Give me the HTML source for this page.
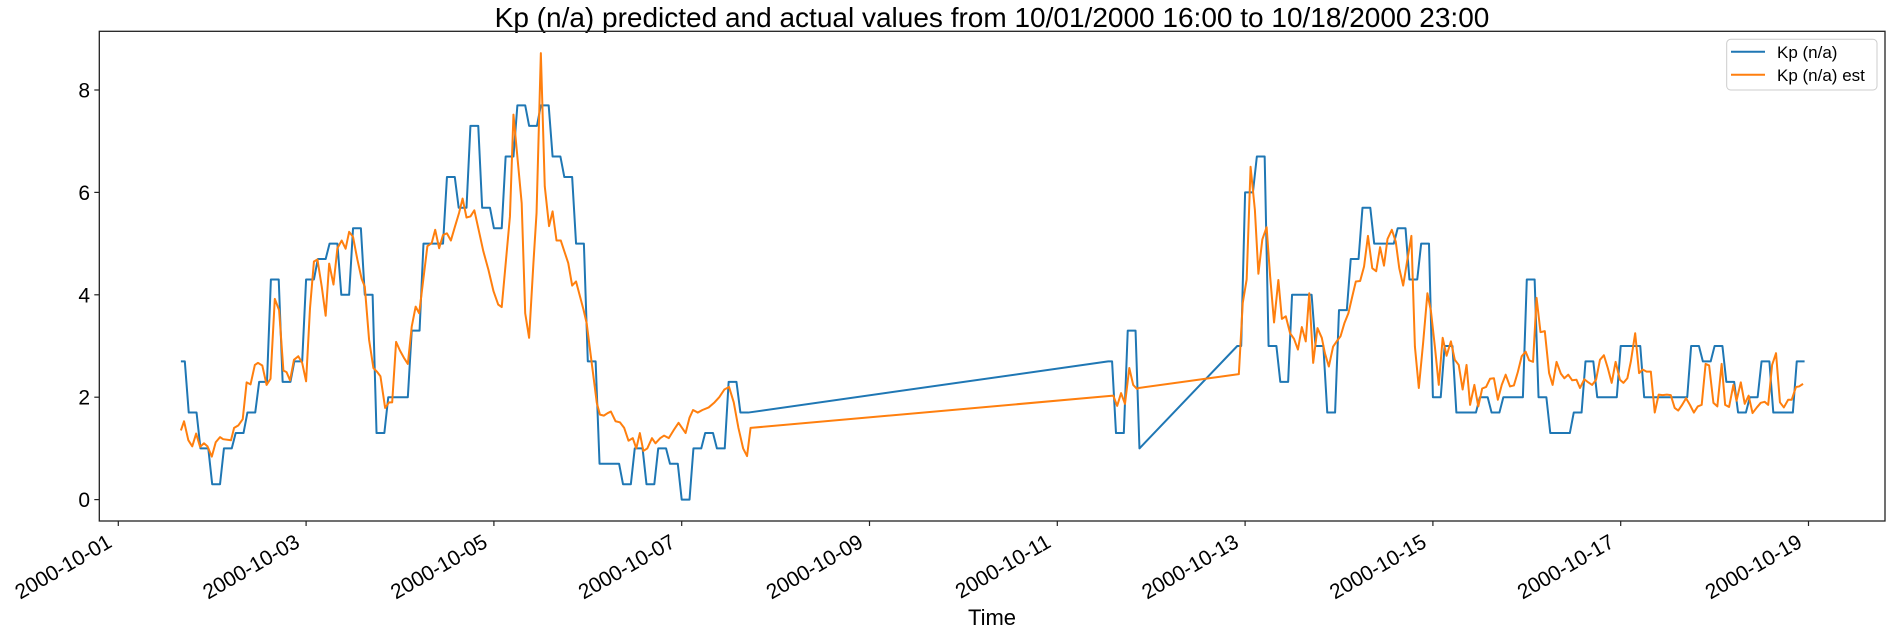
<!DOCTYPE html>
<html><head><meta charset="utf-8"><style>
html,body{margin:0;padding:0;background:#fff;}
svg{display:block;font-family:"Liberation Sans","DejaVu Sans",sans-serif;}
</style></head><body>
<svg id="chart" width="1891" height="633" viewBox="0 0 1891 633" xmlns="http://www.w3.org/2000/svg">
<rect x="0" y="0" width="1891" height="633" fill="#fff"/>
<text x="992" y="27" text-anchor="middle" font-size="28" fill="#000">Kp (n/a) predicted and actual values from 10/01/2000 16:00 to 10/18/2000 23:00</text>
<g id="yaxis"></g>
<g id="xaxis"></g>
<g id="series"></g>
<rect x="99.3" y="31.3" width="1785.7" height="489.7" fill="none" stroke="#222" stroke-width="1.3"/>
<text x="992" y="625" text-anchor="middle" font-size="22" fill="#000">Time</text>
<g>
<rect x="1726.7" y="39.3" width="150.3" height="50.7" rx="4" fill="#fff" fill-opacity="0.8" stroke="#ccc" stroke-width="1"/>
<line x1="1731" y1="51.7" x2="1765" y2="51.7" stroke="#1f77b4" stroke-width="2"/>
<text x="1777" y="58" font-size="17" fill="#000">Kp (n/a)</text>
<line x1="1731" y1="74.7" x2="1765" y2="74.7" stroke="#ff7f0e" stroke-width="2"/>
<text x="1777" y="81" font-size="17" fill="#000">Kp (n/a) est</text>
</g>
</svg>
<script>
// hours since 2000-10-01 00:00
const actualStart = [16,18,21,24,27,30,33,36,39,42,45,48,51,54,57,60,63,66,69,72,75,78,81,84,87,90,93,96,99,102,105,108,111,114,117,120,123,126,129,132,135,138,141,144,147,150,153,156,159,253,255,258,261,286,288,291,294,297,300,303,306,309,312,315,318,321,324,327,330,333,336,339,342,345,348,351,354,357,360,363,366,369,372,375,378,381,384,387,390,393,396,399,402,405,408,411,414,417,420,423,426,429];
const actualEnd = [17,20,23,26,29,32,35,38,41,44,47,50,53,56,59,62,65,68,71,74,77,80,83,86,89,92,95,98,101,104,107,110,113,116,119,122,125,128,131,134,137,140,143,146,149,152,155,158,161,254,257,260,261,287,290,293,296,299,302,305,308,311,314,317,320,323,326,329,332,335,338,341,344,347,350,353,356,359,362,365,368,371,374,377,380,383,386,389,392,395,398,401,404,407,410,413,416,419,422,425,428,431];
const actualValue = [2.7,1.7,1.0,0.3,1.0,1.3,1.7,2.3,4.3,2.3,2.7,4.3,4.7,5.0,4.0,5.3,4.0,1.3,2.0,2.0,3.3,5.0,5.0,6.3,5.7,7.3,5.7,5.3,6.7,7.7,7.3,7.7,6.7,6.3,5.0,2.7,0.7,0.7,0.3,1.0,0.3,1.0,0.7,0.0,1.0,1.3,1.0,2.3,1.7,2.7,1.3,3.3,1.0,3.0,6.0,6.7,3.0,2.3,4.0,4.0,3.0,1.7,3.7,4.7,5.7,5.0,5.0,5.3,4.3,5.0,2.0,3.0,1.7,1.7,2.0,1.7,2.0,2.0,4.3,2.0,1.3,1.3,1.7,2.7,2.0,2.0,3.0,3.0,2.0,2.0,2.0,2.0,3.0,2.7,3.0,2.3,1.7,2.0,2.7,1.7,1.7,2.7];
const estHours = [16,16.8,17.9,18.9,19.9,20.9,21.9,22.8,23.9,24.9,26,26.8,28.8,29.6,30.7,31.8,32.8,33.8,34.9,35.7,36.8,37.9,38.9,40,41.1,42.2,43,43.9,44.9,46,47,48,49,50,50.9,52,53,53.9,55,56,57.1,58.1,59,60,61.1,62.2,63,64.1,65.2,66.2,67,68.2,69.2,70,71,72,73,74,75,76,76.9,79,80.1,81,82,83,84,85,86,87.1,88,89,90,91,92.1,93.3,94.6,95.9,97.1,98,100.1,101,103.1,104,105,106.1,106.9,108,109,110.1,111,112,113.1,114,115,116,117,118,118.9,119.7,121,122.3,123.1,124.1,125.1,125.9,127.1,128.2,129.3,130.4,131.5,132.4,133.3,134.2,135.2,136.4,137.3,138.5,139.5,140.7,141.9,143.2,144.1,145,146,146.9,148.1,149.3,150.9,152.4,153.6,154.9,156.1,157.3,158.5,159.7,160.7,161.6,254.3,255.3,256.3,257.3,258.4,259.4,260.4,260.8,286.4,287.4,288.4,289.4,290.5,291.4,292.4,293.5,294.4,295.4,296.5,297.4,298.4,299.5,300.5,301.5,302.5,303.5,304.4,305.4,306.5,307.6,308.4,309.4,310.5,311.4,312.4,313.4,314.4,315.4,316.3,317.4,318.4,319.4,320.5,321.5,322.5,323.5,324.4,325.5,326.5,327.4,328.4,329.4,330.5,331.4,332.4,333.5,334.6,335.5,336.5,337.5,338.5,339.5,340.6,341.6,342.6,343.6,344.6,345.5,346.6,347.6,348.6,349.6,350.6,351.6,352.6,353.6,354.6,355.7,356.7,357.7,358.7,359.7,360.6,361.6,362.5,363.5,364.6,365.7,366.6,367.6,368.7,369.6,370.6,371.6,372.7,373.6,374.7,375.7,376.7,377.7,378.7,379.7,380.7,381.7,382.7,383.8,384.7,385.7,386.6,387.7,388.7,389.6,390.6,391.7,392.7,393.7,394.7,395.8,396.8,397.8,398.7,399.7,400.7,401.7,402.7,403.7,404.7,405.7,406.6,407.7,408.7,409.8,410.7,411.7,412.8,413.6,414.7,415.7,416.7,417.7,418.8,419.8,420.8,421.7,422.7,423.7,424.7,425.7,426.8,427.7,428.8,429.6,430.6];
const estValue = [1.35,1.53,1.16,1.04,1.29,1.03,1.1,1.04,0.84,1.12,1.22,1.18,1.16,1.4,1.45,1.57,2.29,2.25,2.63,2.67,2.62,2.24,2.36,3.92,3.7,2.52,2.49,2.33,2.73,2.8,2.67,2.31,3.74,4.65,4.69,4.16,3.59,4.61,4.2,4.91,5.06,4.9,5.23,5.13,4.69,4.31,4.16,3.12,2.57,2.49,2.41,1.79,1.9,1.9,3.08,2.91,2.77,2.65,3.38,3.77,3.64,4.95,5.01,5.27,4.91,5.17,5.2,5.06,5.32,5.6,5.88,5.51,5.53,5.65,5.27,4.85,4.49,4.07,3.81,3.76,5.53,7.52,5.79,3.64,3.16,4.62,5.6,8.72,6.12,5.34,5.63,5.06,5.06,4.85,4.62,4.18,4.26,3.97,3.71,3.45,2.67,1.89,1.66,1.64,1.69,1.72,1.53,1.51,1.4,1.15,1.2,1.0,1.3,0.95,1.0,1.2,1.1,1.2,1.25,1.2,1.35,1.5,1.4,1.3,1.6,1.75,1.7,1.75,1.8,1.9,2.0,2.15,2.2,1.9,1.4,1.0,0.85,1.4,2.03,1.83,2.08,1.87,2.57,2.24,2.16,2.18,2.45,3.84,4.3,6.5,5.66,4.41,5.08,5.32,4.36,3.46,4.29,3.53,3.58,3.25,3.14,2.93,3.37,3.09,4.03,2.67,3.35,3.16,2.86,2.6,2.99,3.09,3.19,3.45,3.64,3.97,4.26,4.27,4.55,5.15,4.52,4.46,4.93,4.57,5.09,5.27,5.04,4.52,4.18,4.65,5.15,2.99,2.18,3.06,4.03,3.68,2.99,2.24,3.16,2.81,3.09,2.73,2.63,2.15,2.63,1.85,2.24,1.82,2.17,2.2,2.36,2.37,1.95,2.24,2.44,2.21,2.23,2.49,2.8,2.89,2.72,2.69,3.94,3.27,3.29,2.47,2.24,2.69,2.46,2.37,2.44,2.33,2.34,2.18,2.35,2.29,2.24,2.34,2.73,2.82,2.57,2.28,2.69,2.34,2.28,2.37,2.7,3.25,2.47,2.54,2.5,2.5,1.7,2.05,2.04,2.05,2.04,1.79,1.74,1.85,1.98,1.85,1.7,1.82,1.85,2.65,2.62,1.89,1.82,2.65,1.85,1.81,2.24,1.93,2.29,1.87,2.03,1.69,1.8,1.89,1.91,1.85,2.63,2.86,1.9,1.8,1.95,1.95,2.2,2.21,2.26,2.49];
const yTicks = [0,2,4,6,8];
const xTickDays = [0,2,4,6,8,10,12,14,16,18];
const xTickLabels = ["2000-10-01","2000-10-03","2000-10-05","2000-10-07","2000-10-09","2000-10-11","2000-10-13","2000-10-15","2000-10-17","2000-10-19"];

const NS = "http://www.w3.org/2000/svg";
function xs(h){ return 118.3 + h/24*93.9; }
function ys(v){ return 499.6 - v*51.2; }
function mk(tag, attrs, parent){
  const e = document.createElementNS(NS, tag);
  for (const k in attrs) e.setAttribute(k, attrs[k]);
  parent.appendChild(e);
  return e;
}
const yaxis = document.getElementById('yaxis');
yTicks.forEach(function(v){
  const t = mk('line', {x1:94.3, x2:99.3, y1:ys(v), y2:ys(v), stroke:'#222', 'stroke-width':1.2}, yaxis);
  
  
  const l = mk('text', {x:90, y:ys(v)+7.5, 'text-anchor':'end', 'font-size':21, fill:'#000'}, yaxis);
  l.textContent = String(v);
  
  
});
const xaxis = document.getElementById('xaxis');
xTickDays.forEach(function(d, i){
  const x = xs(d*24);
  const t = mk('line', {x1:x, x2:x, y1:521, y2:526, stroke:'#222', 'stroke-width':1.2}, xaxis);
  
  
  const l = mk('text', {transform:'translate(' + (x-5) + ',546) rotate(-30)', 'text-anchor':'end', 'font-size':21, fill:'#000'}, xaxis);
  l.textContent = xTickLabels[i];
  
  
});
const series = document.getElementById('series');
let pa = [];
for (let i = 0; i < actualStart.length; i++){
  pa.push(xs(actualStart[i]).toFixed(2) + ',' + ys(actualValue[i]).toFixed(2));
  if (actualEnd[i] !== actualStart[i]) pa.push(xs(actualEnd[i]).toFixed(2) + ',' + ys(actualValue[i]).toFixed(2));
}
const la = mk('polyline', {points: pa.join(' '), fill:'none', stroke:'#1f77b4', 'stroke-width':2, 'stroke-linejoin':'round'}, series);


let pe = [];
const n = Math.min(estHours.length, estValue.length);
for (let i = 0; i < n; i++){
  pe.push(xs(estHours[i]).toFixed(2) + ',' + ys(estValue[i]).toFixed(2));
}
const le = mk('polyline', {points: pe.join(' '), fill:'none', stroke:'#ff7f0e', 'stroke-width':2, 'stroke-linejoin':'round'}, series);


</script>
</body></html>
